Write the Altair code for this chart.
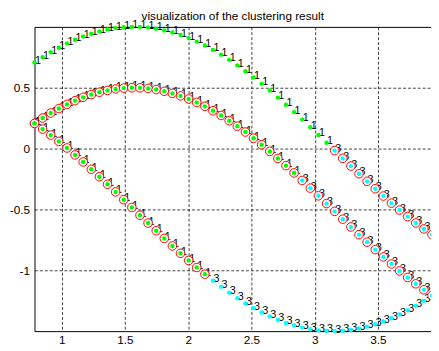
import altair as alt
import pandas as pd

TITLE = "visualization of the clustering result"

# x positions of the samples
x_vals = [0.7854, 0.8495, 0.9136, 0.9777, 1.0419, 1.1060, 1.1701, 1.2342, 1.2983, 1.3624,
          1.4265, 1.4907, 1.5548, 1.6189, 1.6830, 1.7471, 1.8112, 1.8753, 1.9394, 2.0036,
          2.0677, 2.1318, 2.1959, 2.2600, 2.3241, 2.3882, 2.4524, 2.5165, 2.5806, 2.6447,
          2.7088, 2.7729, 2.8370, 2.9012, 2.9653, 3.0294, 3.0935, 3.1576, 3.2217, 3.2858,
          3.3500, 3.4141, 3.4782, 3.5423, 3.6064, 3.6705, 3.7346, 3.7988, 3.8629, 3.9270]

# upper curve
y_top = [0.707, 0.751, 0.792, 0.829, 0.863, 0.894, 0.921, 0.944, 0.963, 0.978,
         0.990, 0.997, 0.9999, 0.999, 0.994, 0.985, 0.971, 0.954, 0.933, 0.908,
         0.879, 0.847, 0.811, 0.772, 0.729, 0.684, 0.636, 0.585, 0.532, 0.477,
         0.419, 0.360, 0.300, 0.238, 0.175, 0.112, 0.048, -0.016, -0.080, -0.144,
         -0.207, -0.269, -0.330, -0.390, -0.448, -0.505, -0.559, -0.611, -0.660, -0.707]

# middle curve
y_mid = [0.207, 0.251, 0.292, 0.329, 0.363, 0.394, 0.421, 0.444, 0.463, 0.478,
         0.490, 0.497, 0.4999, 0.499, 0.494, 0.485, 0.471, 0.454, 0.433, 0.408,
         0.379, 0.347, 0.311, 0.272, 0.229, 0.184, 0.136, 0.085, 0.032, -0.023,
         -0.081, -0.140, -0.200, -0.262, -0.325, -0.388, -0.452, -0.516, -0.580, -0.644,
         -0.707, -0.769, -0.830, -0.890, -0.948, -1.005, -1.059, -1.111, -1.160, -1.207]

# lower curve
y_bot = [0.207, 0.160, 0.111, 0.059, 0.005, -0.052, -0.110, -0.170, -0.231, -0.293,
         -0.356, -0.420, -0.484, -0.548, -0.612, -0.675, -0.738, -0.800, -0.860, -0.919,
         -0.977, -1.032, -1.085, -1.136, -1.184, -1.229, -1.272, -1.311, -1.347, -1.379,
         -1.408, -1.433, -1.454, -1.471, -1.485, -1.494, -1.499, -1.4999, -1.497, -1.490,
         -1.478, -1.463, -1.444, -1.421, -1.394, -1.363, -1.329, -1.292, -1.251, -1.207]

# cluster label of each sample (run lengths)
cluster_top = [1] * 37 + [3] * 13
cluster_mid = [1] * 33 + [3] * 17
cluster_bot = [1] * 22 + [3] * 28

# samples drawn with a red ring
ring_top = [0] * 37 + [1] * 13
ring_mid = [1] * 50
ring_bot = [1] * 22 + [0] * 28

x_ticks = [1, 1.5, 2, 2.5, 3, 3.5]
y_ticks = [-1, -0.5, 0, 0.5]

rows = []
for ys, cl, rg in ((y_top, cluster_top, ring_top),
                   (y_mid, cluster_mid, ring_mid),
                   (y_bot, cluster_bot, ring_bot)):
    for xv, yv, c, r in zip(x_vals, ys, cl, rg):
        rows.append({"x": xv, "y": yv, "cluster": str(c), "ring": r})
df = pd.DataFrame(rows)
title_df = pd.DataFrame({"t": [TITLE]})

FONT = "Liberation Sans"
W, H = 404, 310
xs = alt.Scale(domain=[0.7854, 3.919], nice=False, zero=False)
ys = alt.Scale(domain=[-1.5, 1.0], nice=False, zero=False)

y_axis = alt.Axis(values=y_ticks, labelExpr="'' + datum.value", title=None, grid=True,
                  ticks=False, domain=True, labelPadding=5)

base = alt.Chart(df)

texts = base.mark_text(align="left", baseline="middle", dx=0.5, dy=-1.5, fontSize=11,
                       font=FONT, color="black").encode(
    x=alt.X("x:Q", scale=xs,
            axis=alt.Axis(values=x_ticks, labelExpr="'' + datum.value", title=None,
                          grid=True, ticks=False, domain=True, orient="bottom",
                          labelPadding=4)),
    y=alt.Y("y:Q", scale=ys, axis=y_axis),
    text="cluster:N",
)

rings = base.transform_filter("datum.ring == 1").mark_point(
    shape="circle", filled=True, fill="white", stroke="#ff0000", strokeWidth=1.0,
    size=76, opacity=1).encode(
    x=alt.X("x:Q", scale=xs,
            axis=alt.Axis(orient="top", labels=False, ticks=False, grid=False,
                          domain=True, title=None)),
    y=alt.Y("y:Q", scale=ys, axis=y_axis),
)

dots = base.mark_circle(size=20, opacity=1).encode(
    x=alt.X("x:Q", scale=xs, axis=None),
    y=alt.Y("y:Q", scale=ys, axis=y_axis),
    color=alt.Color("cluster:N",
                    scale=alt.Scale(domain=["1", "3"], range=["#00ff00", "#00ffff"]),
                    legend=None),
)

title = alt.Chart(title_df).mark_text(fontSize=12, font=FONT, color="black",
                                      align="center", baseline="alphabetic").encode(
    text="t:N", x=alt.value(W / 2), y=alt.value(-7))

chart = alt.layer(texts, rings, dots, title).resolve_axis(x="independent").properties(
    width=W,
    height=H,
    autosize=alt.AutoSizeParams(type="none"),
    padding={"left": 27, "top": 16, "right": 0, "bottom": 17},
    background="white",
).configure_view(stroke=None).configure_axis(
    labelFont=FONT, labelFontSize=12, labelColor="black",
    domainColor="black", domainWidth=1,
    gridColor="black", gridDash=[3, 2], gridOpacity=0.75, gridWidth=1,
)

chart.save("out.html", embed_options={"renderer": "svg", "actions": False})
